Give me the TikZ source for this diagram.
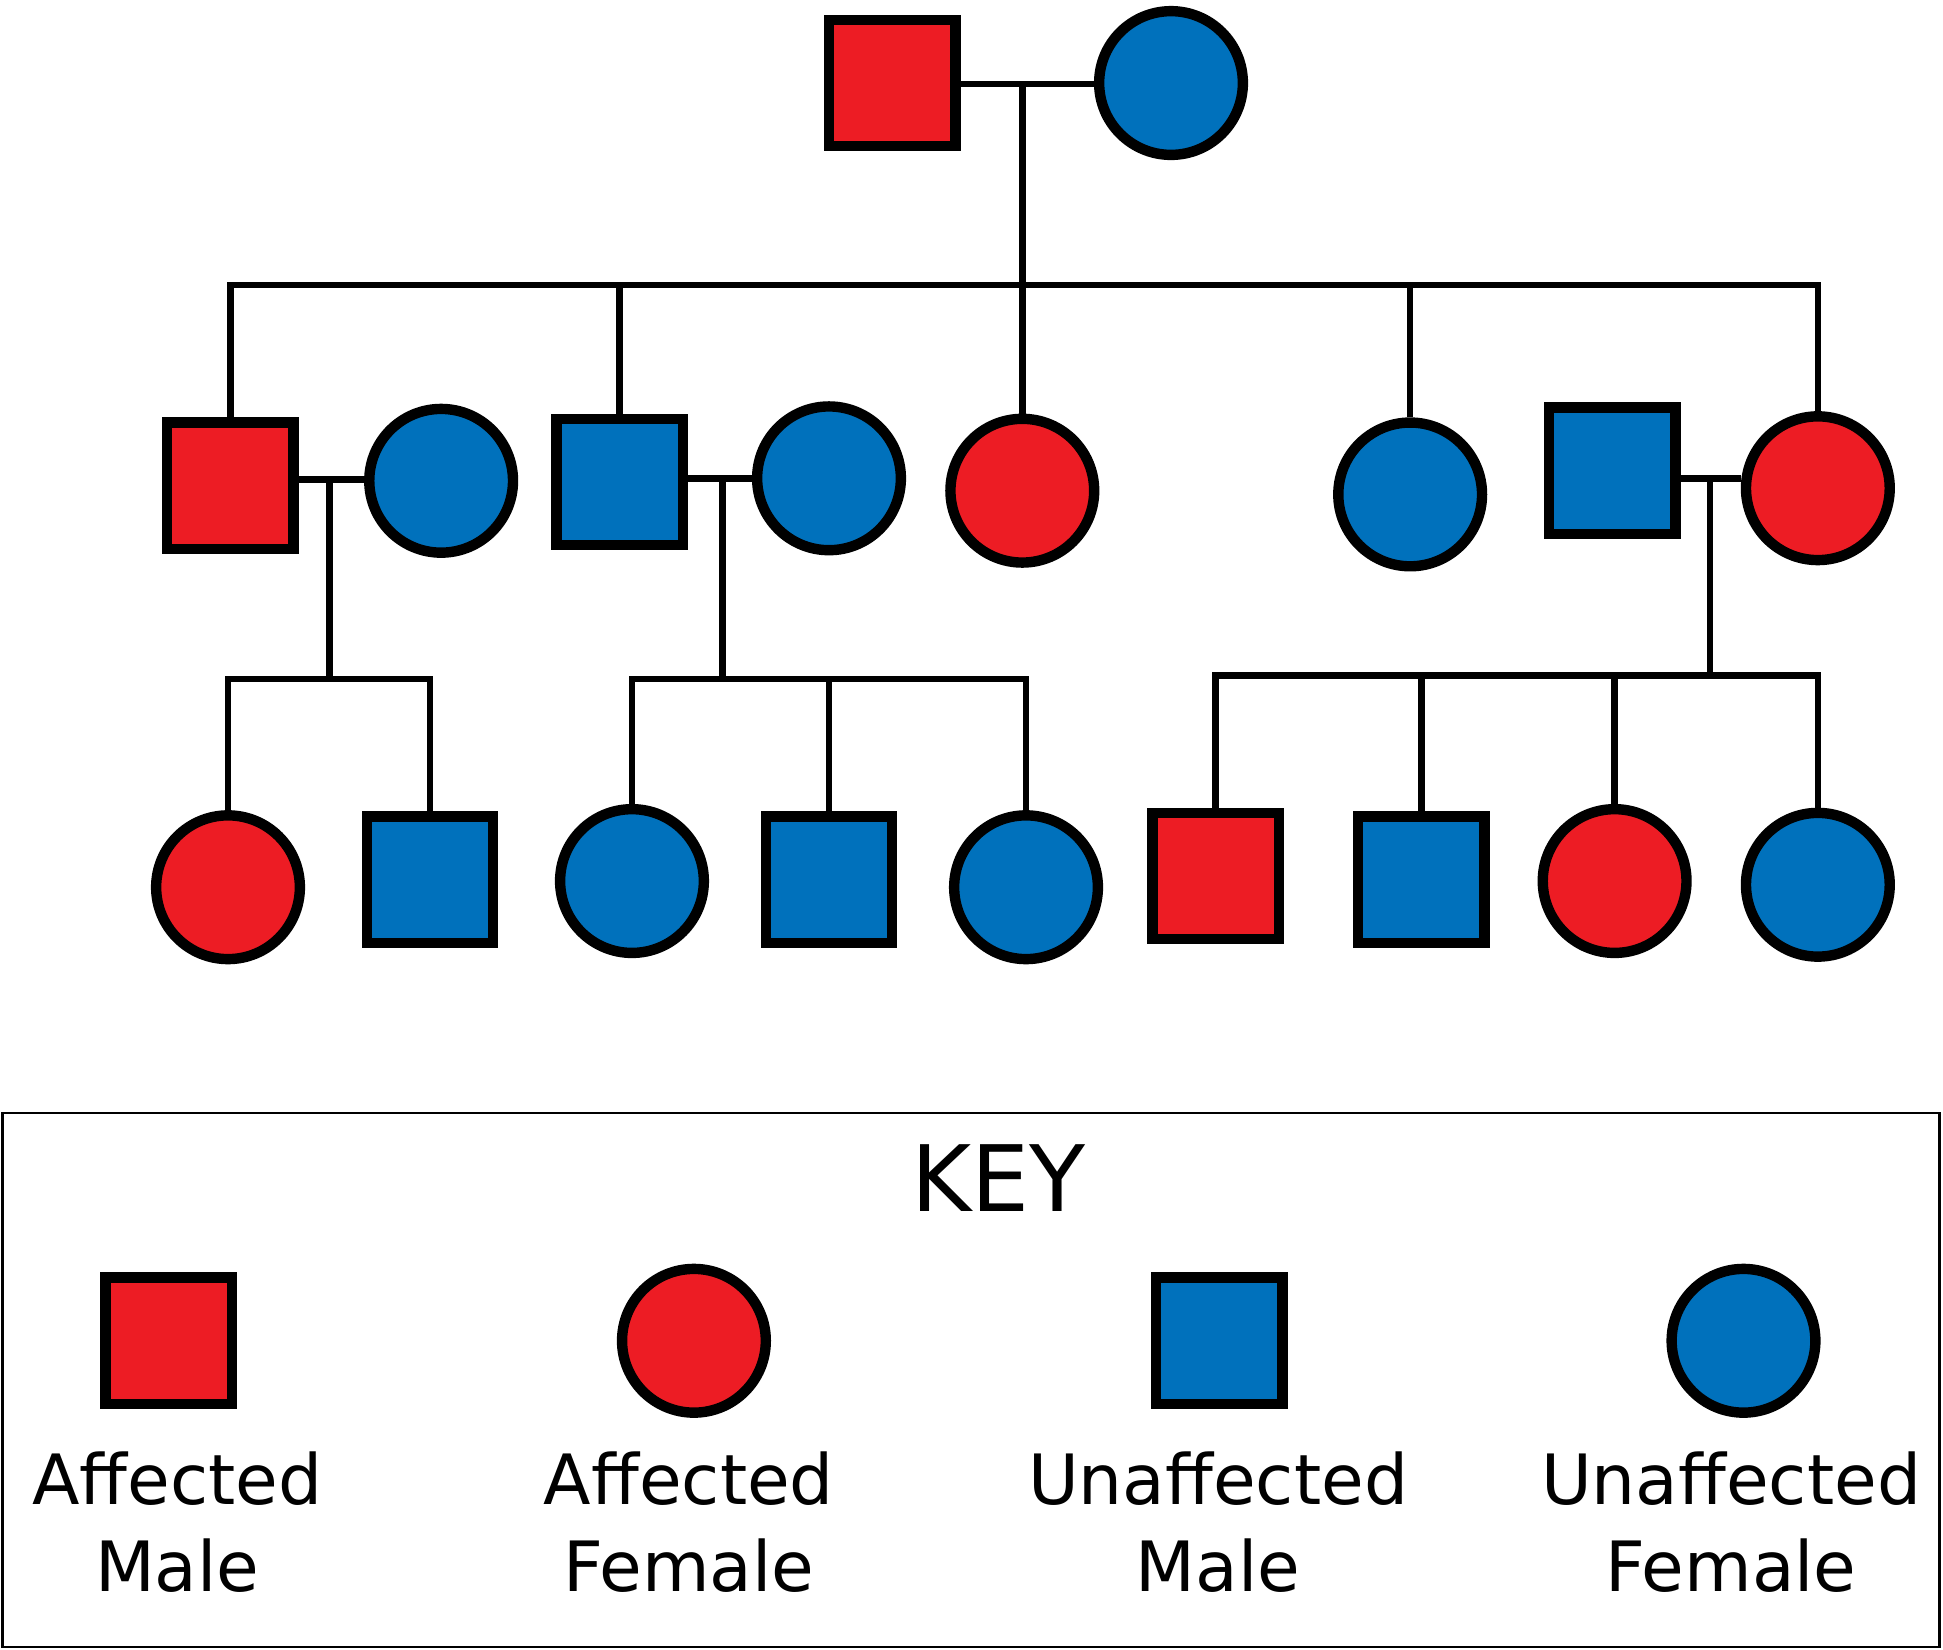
\documentclass[tikz,border=0pt]{standalone}
\usepackage{fontspec}
\setmainfont{DejaVu Sans}
\definecolor{affected}{RGB}{237,28,36}
\definecolor{unaffected}{RGB}{0,113,188}
\newcommand{\sq}{51pt}
\newcommand{\cs}{58pt}

\begin{document}
\begin{tikzpicture}[x=0.5pt,y=-0.5pt,
    male/.style={draw, rectangle, line width=4.2pt, minimum size=\sq, inner sep=0pt},
    female/.style={draw, circle, line width=4.2pt, minimum size=\cs, inner sep=0pt},
    aff/.style={fill=affected},
    unaff/.style={fill=unaffected},
    link/.style={line width=2.6pt},
    keytext/.style={anchor=north, align=center, inner sep=0pt, font=\fontsize{28pt}{35pt}\selectfont}]
    \useasboundingbox (0,0) rectangle (1568,1331);

    % First generation
    \node[male, aff] (g1-m) at (720,67) {};
    \node[female, unaff] (g1-f) at (945,67) {};
    \coordinate (mar-1) at (825,68);
    \draw[link] (g1-m.east |- mar-1) -- (g1-f.west |- mar-1);

    % Second generation
    \node[male, aff] (g2-1) at (186,392) {};
    \node[female, unaff] (g2-2) at (356,388) {};
    \node[male, unaff] (g2-3) at (500,389) {};
    \node[female, unaff] (g2-4) at (669,386) {};
    \node[female, aff] (g2-5) at (825,396) {};
    \node[female, unaff] (g2-6) at (1138,399) {};
    \node[male, unaff] (g2-7) at (1301,380) {};
    \node[female, aff] (g2-8) at (1467,394) {};

    \coordinate (sib-2) at (825,230);
    \draw[link] (g2-1.north) |- (g2-8.north |- sib-2) -- (g2-8.north);
    \draw[link] (mar-1) -- (g2-5.north);
    \foreach \n in {3,6}
        \draw[link] (g2-\n.north) -- (g2-\n.north |- sib-2);

    \coordinate (mar-2a) at (266,387);
    \coordinate (mar-2b) at (583,386);
    \coordinate (mar-2c) at (1380,386);
    \draw[link] (g2-1.east |- mar-2a) -- (g2-2.west |- mar-2a);
    \draw[link] (g2-3.east |- mar-2b) -- (g2-4.west |- mar-2b);
    \draw[link] (g2-7.east |- mar-2c) -- (g2-8.west |- mar-2c);

    % Third generation
    \node[female, aff] (g3-1) at (184,716) {};
    \node[male, unaff] (g3-2) at (347,710) {};
    \node[female, unaff] (g3-3) at (510,711) {};
    \node[male, unaff] (g3-4) at (669,710) {};
    \node[female, unaff] (g3-5) at (828,716) {};
    \node[male, aff] (g3-6) at (981,707) {};
    \node[male, unaff] (g3-7) at (1147,710) {};
    \node[female, aff] (g3-8) at (1303,711) {};
    \node[female, unaff] (g3-9) at (1467,714) {};

    \coordinate (sib-3a) at (266,548);
    \coordinate (sib-3b) at (583,548);
    \coordinate (sib-3c) at (1380,545);
    \draw[link] (mar-2a) -- (sib-3a);
    \draw[link] (mar-2b) -- (sib-3b);
    \draw[link] (mar-2c) -- (sib-3c);
    \draw[link] (g3-1.north) |- (g3-2.north |- sib-3a) -- (g3-2.north);
    \draw[link] (g3-3.north) |- (g3-5.north |- sib-3b) -- (g3-5.north);
    \draw[link] (g3-4.north) -- (g3-4.north |- sib-3b);
    \draw[link] (g3-6.north) |- (g3-9.north |- sib-3c) -- (g3-9.north);
    \foreach \n in {7,8}
        \draw[link] (g3-\n.north) -- (g3-\n.north |- sib-3c);

    % Key
    \draw[line width=1pt] (2,898) rectangle (1565,1329);
    \node[anchor=base, inner sep=0pt, font=\fontsize{37pt}{44pt}\selectfont] (key-title) at (806,978) {KEY};
    \node[male, aff] (key-am) at (136,1082) {};
    \node[female, aff] (key-af) at (560,1082) {};
    \node[male, unaff] (key-um) at (984,1082) {};
    \node[female, unaff] (key-uf) at (1407,1082) {};
    \node[keytext] (txt-am) at (143,1171) {Affected\\Male};
    \node[keytext] (txt-af) at (556,1171) {Affected\\Female};
    \node[keytext] (txt-um) at (983,1171) {Unaffected\\Male};
    \node[keytext] (txt-uf) at (1397,1171) {Unaffected\\Female};
\end{tikzpicture}
\end{document}
